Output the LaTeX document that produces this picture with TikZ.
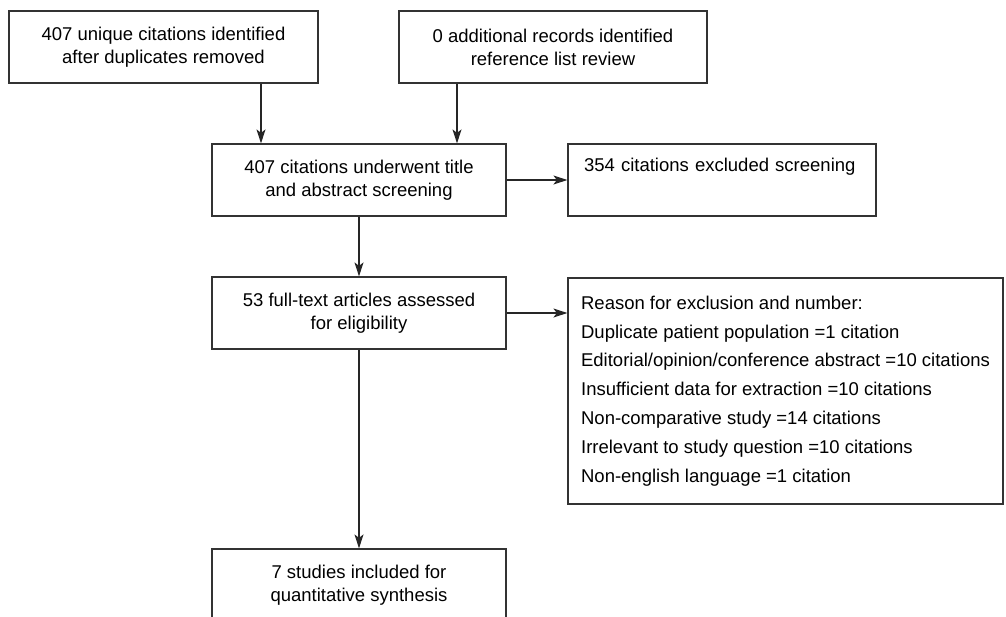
\documentclass[tikz,border=0pt]{standalone}
\usepackage{fontspec}
\setmainfont{Liberation Sans}
\usetikzlibrary{arrows.meta}
\begin{document}
\begin{tikzpicture}[x=1pt,y=-1pt,
  box/.style={draw=black!80, line width=1.2pt, rectangle, inner sep=0pt,
    align=center, font=\fontsize{18.5}{23}\selectfont},
  arr/.style={draw=black!85, line width=1.2pt, -{Stealth[length=14pt,width=9pt,inset=3.5pt]}}]
\useasboundingbox (0,0) rectangle (1006,616);
\node[box, minimum width=309pt, minimum height=72pt] (A) at (163.5,47)
  {407 unique citations identified\\after duplicates removed};
\node[box, minimum width=308pt, minimum height=72pt] (B) at (553,47)
  {0 additional records identified\\reference list review};
\node[box, minimum width=294pt, minimum height=72pt] (C) at (359,180)
  {407 citations underwent title\\and abstract screening};
\node[box, minimum width=308pt, minimum height=72pt, text width=276pt, align=left] (D) at (722,180)
  {354 citations excluded screening\\ \strut};
\node[box, minimum width=435pt, minimum height=226pt, align=left,
  font=\fontsize{18.5}{28.8}\selectfont] (F) at (785.5,391)
  {Reason for exclusion and number:\\
   Duplicate patient population =1 citation\\
   Editorial/opinion/conference abstract =10 citations\\
   Insufficient data for extraction =10 citations\\
   Non-comparative study =14 citations\\
   Irrelevant to study question =10 citations\\
   Non-english language =1 citation};
\node[box, minimum width=294pt, minimum height=72pt] (E) at (359,313)
  {53 full-text articles assessed\\for eligibility};
\node[box, minimum width=294pt, minimum height=72pt] (G) at (359,585)
  {7 studies included for\\quantitative synthesis};
\coordinate (xa) at (261,0);
\coordinate (xb) at (457,0);
\draw[arr] (A.south -| xa) -- (C.north -| xa);
\draw[arr] (B.south -| xb) -- (C.north -| xb);
\draw[arr] (C.east) -- (D.west);
\draw[arr] (C.south) -- (E.north);
\draw[arr] (E.east) -- (F.west |- E.east);
\draw[arr] (E.south) -- (G.north);
\end{tikzpicture}
\end{document}
